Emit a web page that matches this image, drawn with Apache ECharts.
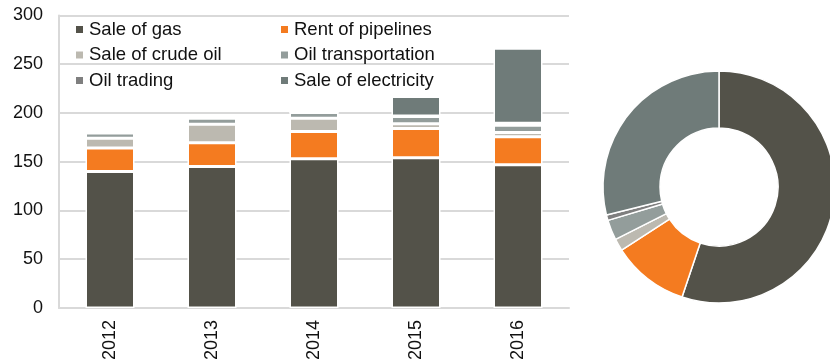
<!DOCTYPE html>
<html>
<head>
<meta charset="utf-8">
<script src="https://cdn.jsdelivr.net/npm/echarts@6/dist/echarts.min.js"></script>
<style>
  html, body { margin: 0; padding: 0; background: #fff; }
  #chart { width: 830px; height: 363px; }
</style>
</head>
<body>
<div id="chart"></div>
<script>
// values (stacked bars, pie = 2016 split)
const years = ['2012', '2013', '2014', '2015', '2016'];
const saleOfGas = [140, 145, 153, 154, 147];
const rentOfPipelines = [24, 24.5, 28, 30, 28.5];
const saleOfCrudeOil = [10, 19, 13.5, 5, 4.5];
const oilTransportation = [5.5, 6, 6, 7.5, 7.5];
const oilTrading = [0, 0, 0, 0.5, 2];
const saleOfElectricity = [0, 0, 0, 20, 77];
const yTicks = [0, 50, 100, 150, 200, 250, 300];

const names = ['Sale of gas', 'Rent of pipelines', 'Sale of crude oil',
  'Oil transportation', 'Oil trading', 'Sale of electricity'];
const colors = ['#535249', '#F47B20', '#BCB9B0', '#939D9B', '#7F7F7F', '#6F7B79'];
const seriesData = [saleOfGas, rentOfPipelines, saleOfCrudeOil,
  oilTransportation, oilTrading, saleOfElectricity];

const legendBase = {
  orient: 'vertical',
  top: 15,
  icon: 'rect',
  itemWidth: 7,
  itemHeight: 7,
  itemGap: 6.5,
  itemStyle: { borderWidth: 0 },
  textStyle: { fontFamily: 'Liberation Sans, Arial', fontSize: 18.5, color: '#111', padding: [0, 0, 0, 1] }
};

const pieIdx = years.length - 1;

const option = {
  animation: false,
  color: colors,
  legend: [
    Object.assign({}, legendBase, { left: 71, data: [names[0], names[2], names[4]] }),
    Object.assign({}, legendBase, { left: 276, data: [names[1], names[3], names[5]] })
  ],
  grid: { left: 59, right: 261, top: 15.5, bottom: 54 },
  xAxis: {
    type: 'category',
    data: years,
    axisLine: { lineStyle: { color: '#d9d9d9', width: 2 } },
    axisTick: { show: false },
    axisLabel: {
      rotate: 90,
      margin: 12,
      fontFamily: 'Liberation Sans, Arial',
      fontSize: 18,
      color: '#111'
    }
  },
  yAxis: {
    type: 'value',
    min: 0,
    max: yTicks[yTicks.length - 1],
    interval: 50,
    axisLine: { show: true, lineStyle: { color: '#d9d9d9', width: 2 } },
    axisTick: { show: false },
    splitLine: { lineStyle: { color: '#d9d9d9', width: 2 } },
    axisLabel: {
      margin: 16,
      fontFamily: 'Liberation Sans, Arial',
      fontSize: 18,
      color: '#111'
    }
  },
  series: names.map((n, i) => ({
    name: n,
    type: 'bar',
    stack: 'total',
    barWidth: 49,
    itemStyle: { color: colors[i], borderColor: '#fff', borderWidth: 1.5 },
    data: seriesData[i]
  })).concat([{
    type: 'pie',
    center: [719, 187],
    radius: [59, 116],
    startAngle: 90,
    clockwise: true,
    label: { show: false },
    labelLine: { show: false },
    itemStyle: { borderColor: '#fff', borderWidth: 1.5 },
    data: names.map((n, i) => ({ name: n, value: seriesData[i][pieIdx], itemStyle: { color: colors[i] } }))
  }])
};

const myChart = echarts.init(document.getElementById('chart'));
myChart.setOption(option);
</script>
</body>
</html>
